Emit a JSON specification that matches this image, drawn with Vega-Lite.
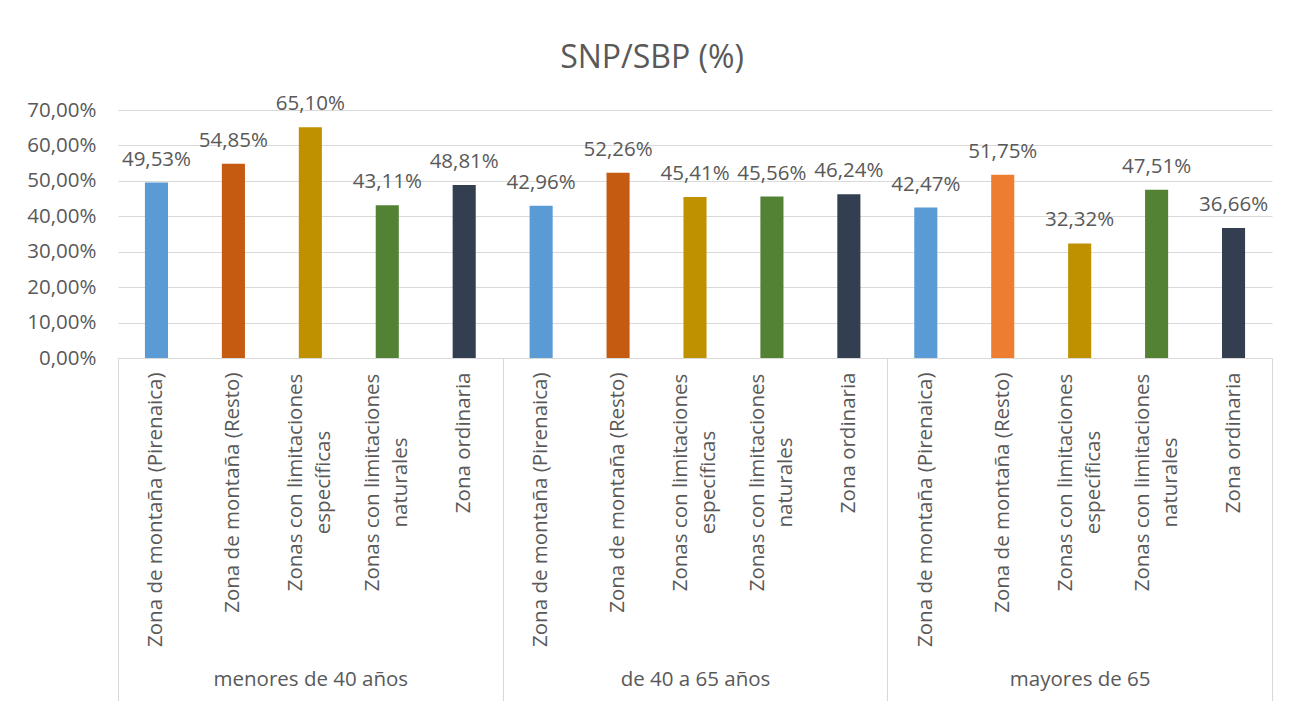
{
  "$schema": "https://vega.github.io/schema/vega-lite/v6.json",
  "width": 1154,
  "height": 248,
  "autosize": {"type": "none"},
  "padding": {"left": 118, "top": 110, "right": 21, "bottom": 343},
  "background": "white",
  "title": {"text": "SNP/SBP (%)", "fontSize": 32, "font": "Open Sans", "fontWeight": "normal", "color": "#595959", "baseline": "alphabetic", "offset": -6, "dx": -43},
  "config": {
    "font": "Open Sans",
    "view": {"stroke": null},
    "locale": {"number": {"decimal": ",", "thousands": ".", "grouping": [3], "currency": ["", " €"]}}
  },
  "data": {"values": [
    {"grupo": "menores de 40 años", "cat": "01 Zona de montaña (Pirenaica)", "valor": 0.4953},
    {"grupo": "menores de 40 años", "cat": "02 Zona de montaña (Resto)", "valor": 0.5485},
    {"grupo": "menores de 40 años", "cat": "03 Zonas con limitaciones|específicas", "valor": 0.6510},
    {"grupo": "menores de 40 años", "cat": "04 Zonas con limitaciones|naturales", "valor": 0.4311},
    {"grupo": "menores de 40 años", "cat": "05 Zona ordinaria", "valor": 0.4881},
    {"grupo": "de 40 a 65 años", "cat": "06 Zona de montaña (Pirenaica)", "valor": 0.4296},
    {"grupo": "de 40 a 65 años", "cat": "07 Zona de montaña (Resto)", "valor": 0.5226},
    {"grupo": "de 40 a 65 años", "cat": "08 Zonas con limitaciones|específicas", "valor": 0.4541},
    {"grupo": "de 40 a 65 años", "cat": "09 Zonas con limitaciones|naturales", "valor": 0.4556},
    {"grupo": "de 40 a 65 años", "cat": "10 Zona ordinaria", "valor": 0.4624},
    {"grupo": "mayores de 65", "cat": "11 Zona de montaña (Pirenaica)", "valor": 0.4247},
    {"grupo": "mayores de 65", "cat": "12 Zona de montaña (Resto)", "valor": 0.5175},
    {"grupo": "mayores de 65", "cat": "13 Zonas con limitaciones|específicas", "valor": 0.3232},
    {"grupo": "mayores de 65", "cat": "14 Zonas con limitaciones|naturales", "valor": 0.4751},
    {"grupo": "mayores de 65", "cat": "15 Zona ordinaria", "valor": 0.3666}
  ]},
  "layer": [
    {
      "encoding": {
        "x": {
          "field": "cat", "type": "nominal", "sort": "ascending",
          "scale": {"type": "band", "paddingInner": 0.7, "paddingOuter": 0.35},
          "axis": {
            "orient": "bottom", "title": null, "labelAngle": -90, "labelBaseline": "middle",
            "labelAlign": {"condition": {"test": "indexof(datum.value, '|') > 0", "value": "center"}, "value": "right"},
            "labelPadding": {"condition": {"test": "indexof(datum.value, '|') > 0", "value": 124}, "value": 14},
            "ticks": false, "domainColor": "#D9D9D9", "domainWidth": 1,
            "labelExpr": "split(substring(datum.value, 3), '|')",
            "labelOffset": {"condition": {"test": "indexof(datum.value, '|') > 0", "value": -14}, "value": 0},
            "labelFontSize": 20.5, "labelColor": "#595959", "labelLineHeight": 28, "labelLimit": 500, "labelOverlap": false
          }
        },
        "y": {
          "field": "valor", "type": "quantitative",
          "scale": {"domain": [0, 0.7], "nice": false, "zero": true},
          "axis": {
            "title": null, "values": [0, 0.1, 0.2, 0.3, 0.4, 0.5, 0.6, 0.7], "format": ".2%",
            "grid": true, "gridColor": "#D9D9D9", "domain": false, "ticks": false, "labelPadding": 22,
            "labelFontSize": 20.5, "labelColor": "#595959"
          }
        }
      },
      "layer": [
        {
          "mark": {"type": "bar"},
          "encoding": {
            "color": {
              "field": "cat", "type": "nominal", "legend": null,
              "scale": {"range": ["#5B9BD5", "#C55A11", "#BF9000", "#548235", "#333F50", "#5B9BD5", "#C55A11", "#BF9000", "#548235", "#333F50", "#5B9BD5", "#ED7D31", "#BF9000", "#548235", "#333F50"]}
            }
          }
        },
        {
          "mark": {"type": "text", "baseline": "alphabetic", "dy": -17, "fontSize": 20.5, "color": "#595959"},
          "encoding": {"text": {"field": "valor", "type": "quantitative", "format": ".2%"}}
        }
      ]
    },
    {
      "mark": {"type": "point", "opacity": 0},
      "encoding": {
        "x": {
          "field": "grupo", "type": "nominal",
          "sort": ["menores de 40 años", "de 40 a 65 años", "mayores de 65"],
          "scale": {"type": "band", "paddingInner": 0, "paddingOuter": 0},
          "axis": {
            "orient": "bottom", "title": null, "domain": false, "ticks": true, "tickBand": "extent",
            "tickSize": 343, "tickColor": "#D9D9D9", "labelAngle": 0, "labelPadding": -32,
            "labelFontSize": 20.5, "labelColor": "#595959", "labelBaseline": "top", "labelAlign": "center", "labelLimit": 500
          }
        }
      }
    }
  ],
  "resolve": {"scale": {"x": "independent"}, "axis": {"x": "independent"}}
}
